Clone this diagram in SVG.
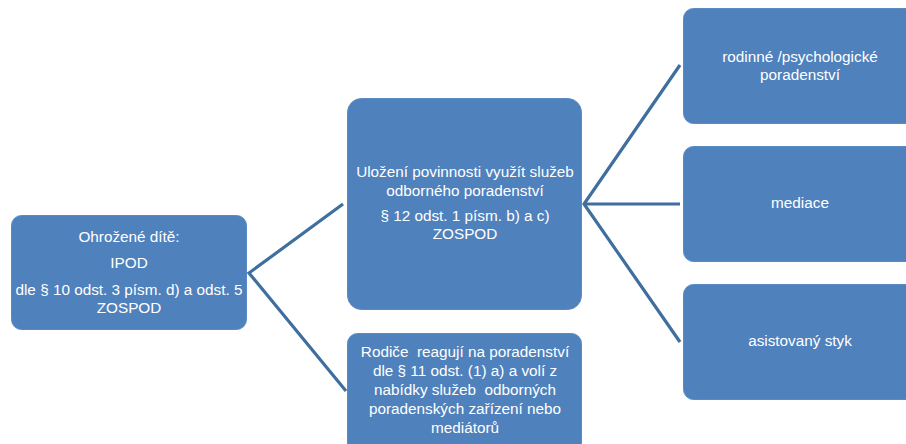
<svg xmlns="http://www.w3.org/2000/svg" width="906" height="444" viewBox="0 0 906 444">
<style>
.box{fill:#4f81bd;stroke:#5a8ac4;stroke-width:1}
.t{font-family:"Liberation Sans",Arial,sans-serif;font-size:15.3px;fill:#ffffff;text-anchor:middle;white-space:pre}
.c{stroke:#3e6f9f;stroke-width:3.2;fill:none;stroke-linecap:butt;stroke-linejoin:miter}
</style>
<rect width="906" height="444" fill="#ffffff"/>
<g id="connectors">
<polyline class="c" points="343,204 249,273 346,391"/>
<line class="c" x1="584" y1="204" x2="680" y2="204"/>
<polyline class="c" points="680,65 584,204 680,342"/>
</g>
<g id="node-ohrozene">
<rect class="box" x="11.5" y="215.5" width="235" height="114" rx="10"/>
<text class="t" x="129" y="242">Ohrožené dítě:</text>
<text class="t" x="129" y="268">IPOD</text>
<text class="t" x="129" y="295">dle § 10 odst. 3 písm. d) a odst. 5</text>
<text class="t" x="129" y="313">ZOSPOD</text>
</g>
<g id="node-ulozeni">
<rect class="box" x="347.5" y="98.5" width="234" height="211" rx="14"/>
<text class="t" x="465" y="177">Uložení povinnosti využít služeb</text>
<text class="t" x="465" y="196">odborného poradenství</text>
<text class="t" x="465" y="221">§ 12 odst. 1 písm. b) a c)</text>
<text class="t" x="465" y="239">ZOSPOD</text>
</g>
<g id="node-rodice">
<rect class="box" x="347.5" y="333.5" width="234" height="120" rx="10"/>
<text class="t" x="465" y="357" xml:space="preserve">Rodiče  reagují na poradenství</text>
<text class="t" x="465" y="376">dle § 11 odst. (1) a) a volí z</text>
<text class="t" x="465" y="395" xml:space="preserve">nabídky služeb  odborných</text>
<text class="t" x="465" y="414">poradenských zařízení nebo</text>
<text class="t" x="465" y="433">mediátorů</text>
</g>
<g id="node-rodinne">
<rect class="box" x="683.5" y="8.5" width="234" height="115" rx="10"/>
<text class="t" x="800" y="62">rodinné /psychologické</text>
<text class="t" x="800" y="80">poradenství</text>
</g>
<g id="node-mediace">
<rect class="box" x="683.5" y="146.5" width="234" height="115" rx="10"/>
<text class="t" x="800" y="208">mediace</text>
</g>
<g id="node-asistovany">
<rect class="box" x="683.5" y="284.5" width="234" height="115" rx="10"/>
<text class="t" x="800" y="346">asistovaný styk</text>
</g>
</svg>
